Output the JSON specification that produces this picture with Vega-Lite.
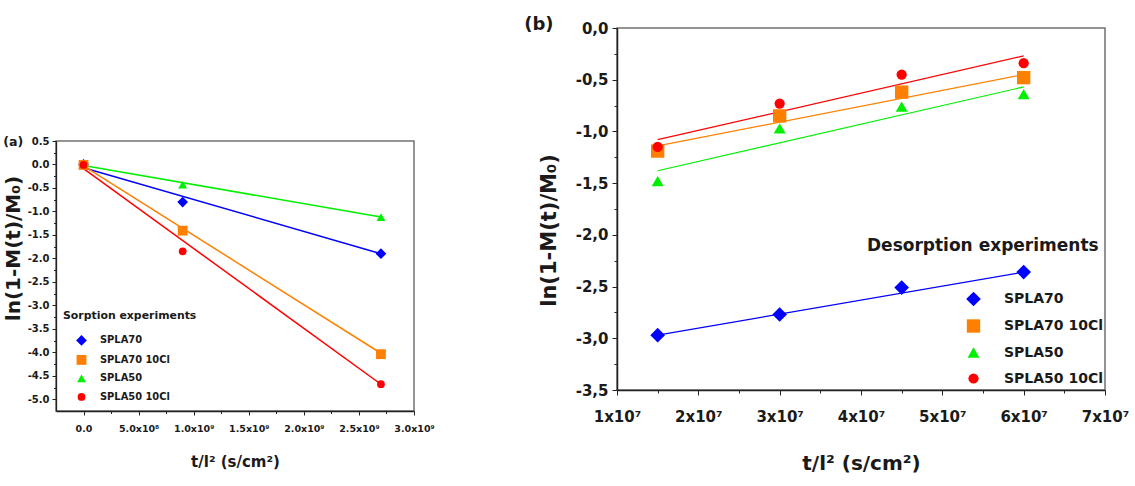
{
  "$schema": "https://vega.github.io/schema/vega-lite/v6.json",
  "padding": {"left": 2, "top": 15, "right": 2, "bottom": 2},
  "config": {
    "font": "DejaVu Sans",
    "view": {"stroke": null},
    "axis": {"grid": false, "labelFontWeight": "bold", "titleFontWeight": "bold", "labelColor": "#1a1a1a", "titleColor": "#1a1a1a", "domainColor": "#222", "tickColor": "#222", "labelFlush": false, "labelOverlap": false},
    "legend": {"labelColor": "#1a1a1a", "titleColor": "#1a1a1a", "labelFontWeight": "bold", "titleFontWeight": "bold", "titleLimit": 400, "labelLimit": 300},
    "title": {"color": "#1a1a1a", "fontWeight": "bold"}
  },
  "datasets": {
    "sorption": [
      {"t": 0, "lnM": 0.0, "series": "SPLA70"},
      {"t": 900000000, "lnM": -0.80, "series": "SPLA70"},
      {"t": 2700000000, "lnM": -1.90, "series": "SPLA70"},
      {"t": 0, "lnM": -0.01, "series": "SPLA70 10Cl"},
      {"t": 900000000, "lnM": -1.41, "series": "SPLA70 10Cl"},
      {"t": 2700000000, "lnM": -4.04, "series": "SPLA70 10Cl"},
      {"t": 0, "lnM": 0.01, "series": "SPLA50"},
      {"t": 900000000, "lnM": -0.43, "series": "SPLA50"},
      {"t": 2700000000, "lnM": -1.12, "series": "SPLA50"},
      {"t": 0, "lnM": -0.01, "series": "SPLA50 10Cl"},
      {"t": 900000000, "lnM": -1.85, "series": "SPLA50 10Cl"},
      {"t": 2700000000, "lnM": -4.68, "series": "SPLA50 10Cl"}
    ],
    "sorptionFit": [
      {"t": 0, "lnM": -0.07, "series": "SPLA70"},
      {"t": 2700000000, "lnM": -1.90, "series": "SPLA70"},
      {"t": 0, "lnM": -0.03, "series": "SPLA70 10Cl"},
      {"t": 2700000000, "lnM": -4.02, "series": "SPLA70 10Cl"},
      {"t": 0, "lnM": -0.02, "series": "SPLA50"},
      {"t": 2700000000, "lnM": -1.12, "series": "SPLA50"},
      {"t": 0, "lnM": -0.09, "series": "SPLA50 10Cl"},
      {"t": 2700000000, "lnM": -4.68, "series": "SPLA50 10Cl"}
    ],
    "desorption": [
      {"t": 15000000, "lnM": -2.97, "series": "SPLA70"},
      {"t": 30000000, "lnM": -2.77, "series": "SPLA70"},
      {"t": 45000000, "lnM": -2.51, "series": "SPLA70"},
      {"t": 60000000, "lnM": -2.36, "series": "SPLA70"},
      {"t": 15000000, "lnM": -1.19, "series": "SPLA70 10Cl"},
      {"t": 30000000, "lnM": -0.85, "series": "SPLA70 10Cl"},
      {"t": 45000000, "lnM": -0.62, "series": "SPLA70 10Cl"},
      {"t": 60000000, "lnM": -0.48, "series": "SPLA70 10Cl"},
      {"t": 15000000, "lnM": -1.48, "series": "SPLA50"},
      {"t": 30000000, "lnM": -0.97, "series": "SPLA50"},
      {"t": 45000000, "lnM": -0.76, "series": "SPLA50"},
      {"t": 60000000, "lnM": -0.64, "series": "SPLA50"},
      {"t": 15000000, "lnM": -1.15, "series": "SPLA50 10Cl"},
      {"t": 30000000, "lnM": -0.73, "series": "SPLA50 10Cl"},
      {"t": 45000000, "lnM": -0.45, "series": "SPLA50 10Cl"},
      {"t": 60000000, "lnM": -0.34, "series": "SPLA50 10Cl"}
    ],
    "desorptionFit": [
      {"t": 15000000, "lnM": -2.97, "series": "SPLA70"},
      {"t": 60000000, "lnM": -2.36, "series": "SPLA70"},
      {"t": 15000000, "lnM": -1.14, "series": "SPLA70 10Cl"},
      {"t": 60000000, "lnM": -0.45, "series": "SPLA70 10Cl"},
      {"t": 15000000, "lnM": -1.38, "series": "SPLA50"},
      {"t": 60000000, "lnM": -0.57, "series": "SPLA50"},
      {"t": 15000000, "lnM": -1.08, "series": "SPLA50 10Cl"},
      {"t": 60000000, "lnM": -0.27, "series": "SPLA50 10Cl"}
    ]
  },
  "spacing": 88,
  "resolve": {"scale": {"color": "independent", "shape": "independent", "size": "independent", "stroke": "independent"}, "legend": {"color": "independent", "shape": "independent", "size": "independent"}},
  "hconcat": [
    {
      "spacing": 0,
      "resolve": {"scale": {"color": "independent", "shape": "independent", "size": "independent", "stroke": "independent"}, "legend": {"color": "independent", "shape": "independent", "size": "independent"}},
      "vconcat": [
        {
          "width": 1,
          "height": 107,
          "data": {"values": [{"blank": ""}]},
          "mark": {"type": "text"},
          "encoding": {"text": {"field": "blank"}}
        },
        {
          "width": 358,
          "height": 270,
          "view": {"stroke": "#727272", "strokeWidth": 1.5},
          "title": {"text": "(a)", "anchor": "start", "frame": "bounds", "baseline": "top", "offset": -13, "fontSize": 12.6},
          "layer": [
            {
              "data": {"name": "sorptionFit"},
              "mark": {"type": "line", "strokeWidth": 1.5},
              "encoding": {
                "x": {"field": "t", "type": "quantitative", "scale": {"domain": [-250000000, 3000000000], "nice": false, "zero": false},
                  "axis": {"orient": "bottom", "values": [0, 500000000, 1000000000, 1500000000, 2000000000, 2500000000, 3000000000],
                    "labelExpr": "datum.value == 0 ? '0.0' : (datum.value < 1000000000 ? format(datum.value / 100000000, '.1f') + 'x10⁸' : format(datum.value / 1000000000, '.1f') + 'x10⁹')",
                    "title": "t/l² (s/cm²)", "titleFontSize": 15, "labelFontSize": 9.5, "tickSize": 4, "labelPadding": 8, "titlePadding": 22, "domainWidth": 1.3}},
                "y": {"field": "lnM", "type": "quantitative", "scale": {"domain": [-5.25, 0.5], "nice": false, "zero": false},
                  "axis": {"orient": "left", "values": [0.5, 0, -0.5, -1, -1.5, -2, -2.5, -3, -3.5, -4, -4.5, -5],
                    "labelExpr": "(datum.value < 0 ? '-' : '') + format(abs(datum.value), '.1f')",
                    "title": "ln(1-M(t)/M₀)", "titleFontSize": 20, "titleY": 107, "labelFontSize": 10, "tickSize": 4, "labelPadding": 3, "titlePadding": 4, "domainWidth": 1.3}},
                "stroke": {"field": "series", "type": "nominal", "legend": null,
                  "scale": {"range": ["#00f000", "#ff0000", "#0000ff", "#ff8000"]}}
              }
            },
            {
              "data": {"name": "sorption"},
              "mark": {"type": "point", "filled": true, "opacity": 1},
              "encoding": {
                "x": {"field": "t", "type": "quantitative", "scale": {"domain": [-250000000, 3000000000], "nice": false, "zero": false},
                  "axis": {"orient": "bottom", "values": [250000000, 750000000, 1250000000, 1750000000, 2250000000, 2750000000], "labels": false, "domain": false, "tickSize": 2.5, "title": null}},
                "y": {"field": "lnM", "type": "quantitative", "scale": {"domain": [-5.25, 0.5], "nice": false, "zero": false},
                  "axis": {"orient": "left", "values": [0.25, -0.25, -0.75, -1.25, -1.75, -2.25, -2.75, -3.25, -3.75, -4.25, -4.75], "labels": false, "domain": false, "tickSize": 2.5, "title": null}},
                "size": {"field": "series", "type": "nominal",
                  "scale": {"domain": ["SPLA70", "SPLA70 10Cl", "SPLA50", "SPLA50 10Cl"], "range": [115, 60, 95, 55]},
                  "legend": {"orient": "none", "legendX": 7, "legendY": 169, "title": "Sorption experiments", "titleFontSize": 10.9, "labelFontSize": 9.9, "symbolOffset": 12, "labelOffset": 12, "rowPadding": 8, "titlePadding": 13}},
                "color": {"field": "series", "type": "nominal",
                  "scale": {"domain": ["SPLA70", "SPLA70 10Cl", "SPLA50", "SPLA50 10Cl"], "range": ["#0000ff", "#ff8000", "#00f000", "#ff0000"]},
                  "legend": {"orient": "none", "legendX": 7, "legendY": 169, "title": "Sorption experiments", "titleFontSize": 10.9, "labelFontSize": 9.9, "symbolOffset": 12, "labelOffset": 12, "rowPadding": 8, "titlePadding": 13}},
                "shape": {"field": "series", "type": "nominal",
                  "scale": {"domain": ["SPLA70", "SPLA70 10Cl", "SPLA50", "SPLA50 10Cl"], "range": ["diamond", "square", "triangle-up", "circle"]},
                  "legend": {"orient": "none", "legendX": 7, "legendY": 169, "title": "Sorption experiments", "titleFontSize": 10.9, "labelFontSize": 9.9, "symbolOffset": 12, "labelOffset": 12, "rowPadding": 8, "titlePadding": 13}}
              }
            }
          ],
          "resolve": {"axis": {"x": "independent", "y": "independent"}}
        }
      ]
    },
    {
      "width": 488,
      "height": 362,
      "view": {"stroke": "#727272", "strokeWidth": 1.5},
      "title": {"text": "(b)", "anchor": "start", "frame": "bounds", "baseline": "top", "offset": -13, "dx": -14, "fontSize": 18},
      "layer": [
        {
          "data": {"name": "desorptionFit"},
          "mark": {"type": "line", "strokeWidth": 1.2},
          "encoding": {
            "x": {"field": "t", "type": "quantitative", "scale": {"domain": [10000000, 70000000], "nice": false, "zero": false},
              "axis": {"orient": "bottom", "values": [10000000, 20000000, 30000000, 40000000, 50000000, 60000000, 70000000],
                "labelExpr": "format(datum.value / 10000000, 'd') + 'x10⁷'",
                "title": "t/l² (s/cm²)", "titleFontSize": 20, "labelFontSize": 15, "tickSize": 5, "labelPadding": 14, "titlePadding": 29, "domainWidth": 1.5}},
            "y": {"field": "lnM", "type": "quantitative", "scale": {"domain": [-3.5, 0], "nice": false, "zero": false},
              "axis": {"orient": "left", "values": [0, -0.5, -1, -1.5, -2, -2.5, -3, -3.5],
                "labelExpr": "replace((datum.value < 0 ? '-' : '') + format(abs(datum.value), '.1f'), '.', ',')",
                "title": "ln(1-M(t)/M₀)", "titleFontSize": 21, "titleY": 202, "labelFontSize": 15, "tickSize": 5, "labelPadding": 4, "titlePadding": 16, "domainWidth": 1.5}},
            "stroke": {"field": "series", "type": "nominal", "legend": null,
              "scale": {"range": ["#00f000", "#ff0000", "#0000ff", "#ff8000"]}}
          }
        },
        {
          "data": {"name": "desorption"},
          "mark": {"type": "point", "filled": true, "opacity": 1},
          "encoding": {
            "x": {"field": "t", "type": "quantitative", "scale": {"domain": [10000000, 70000000], "nice": false, "zero": false},
              "axis": {"orient": "bottom", "values": [15000000, 25000000, 35000000, 45000000, 55000000, 65000000], "labels": false, "domain": false, "tickSize": 3, "title": null}},
            "y": {"field": "lnM", "type": "quantitative", "scale": {"domain": [-3.5, 0], "nice": false, "zero": false},
              "axis": {"orient": "left", "values": [-0.25, -0.75, -1.25, -1.75, -2.25, -2.75, -3.25], "labels": false, "domain": false, "tickSize": 3, "title": null}},
            "size": {"field": "series", "type": "nominal",
              "scale": {"domain": ["SPLA70", "SPLA70 10Cl", "SPLA50", "SPLA50 10Cl"], "range": [215, 105, 170, 110]},
              "legend": {"orient": "none", "legendX": 250, "legendY": 210, "title": "Desorption experiments", "titleFontSize": 17, "labelFontSize": 14, "symbolOffset": 98, "labelOffset": 22, "rowPadding": 12, "titlePadding": 35.5}},
            "color": {"field": "series", "type": "nominal",
              "scale": {"domain": ["SPLA70", "SPLA70 10Cl", "SPLA50", "SPLA50 10Cl"], "range": ["#0000ff", "#ff8000", "#00f000", "#ff0000"]},
              "legend": {"orient": "none", "legendX": 250, "legendY": 210, "title": "Desorption experiments", "titleFontSize": 17, "labelFontSize": 14, "symbolOffset": 98, "labelOffset": 22, "rowPadding": 12, "titlePadding": 35.5}},
            "shape": {"field": "series", "type": "nominal",
              "scale": {"domain": ["SPLA70", "SPLA70 10Cl", "SPLA50", "SPLA50 10Cl"], "range": ["diamond", "square", "triangle-up", "circle"]},
              "legend": {"orient": "none", "legendX": 250, "legendY": 210, "title": "Desorption experiments", "titleFontSize": 17, "labelFontSize": 14, "symbolOffset": 98, "labelOffset": 22, "rowPadding": 12, "titlePadding": 35.5}}
          }
        }
      ],
      "resolve": {"axis": {"x": "independent", "y": "independent"}}
    }
  ]
}
